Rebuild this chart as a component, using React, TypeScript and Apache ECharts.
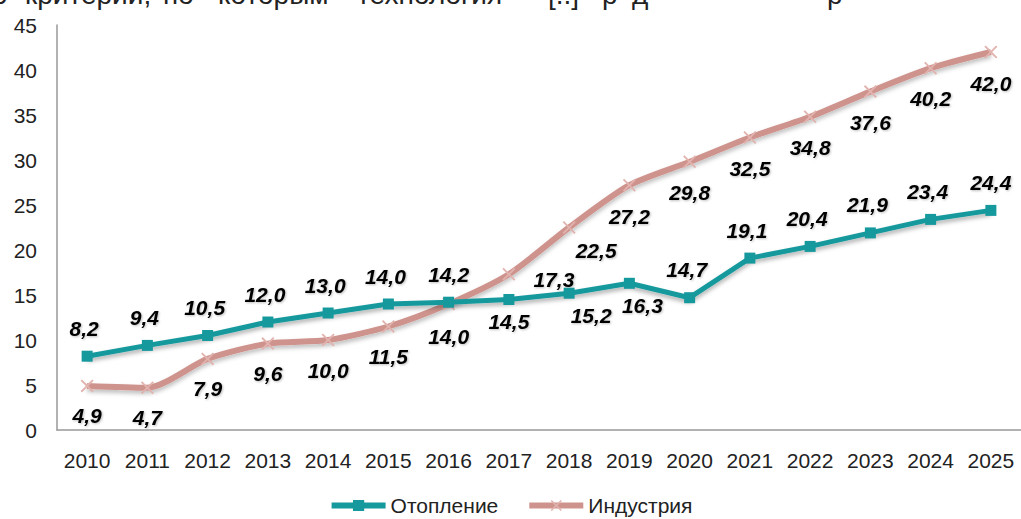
import React, { useEffect, useRef } from "react";
import * as echarts from "echarts";

const years = ["2010","2011","2012","2013","2014","2015","2016","2017","2018","2019","2020","2021","2022","2023","2024","2025"];
const heating = [8.2, 9.4, 10.5, 12.0, 13.0, 14.0, 14.2, 14.5, 15.2, 16.3, 14.7, 19.1, 20.4, 21.9, 23.4, 24.4];
const industry = [4.9, 4.7, 7.9, 9.6, 10.0, 11.5, 14.0, 17.3, 22.5, 27.2, 29.8, 32.5, 34.8, 37.6, 40.2, 42.0];
const seriesNames = ["Отопление", "Индустрия"];
const yTicks = { min: 0, max: 45, interval: 5 };
const topWords = ["о", "критерии,", "по", "которым", "технология", "[..]", "р", "д", "р"];
const topWordX = [-8, 25, 163, 218, 357, 548, 602, 632, 827];

// label offsets (style only)
const heatingOffsets: number[][] = [
  [-3, -28], [-3, -28], [-3, -28], [-3, -28], [-3, -28], [-3, -28], [0, -28],
  [0, 22], [22, 22], [13, 22], [-3, -28], [-3, -28], [-3, -28], [-3, -28], [-3, -28], [0, -28],
];
const industryOffsets: number[][] = [
  [0, 30], [0, 30], [0, 30], [0, 30], [0, 30], [0, 30], [0, 32],
  [45, 5], [27, 23], [0, 31], [0, 31], [0, 31], [0, 31], [0, 31], [0, 30], [0, 31],
];

const TEAL = "#16999d";
const PINK = "#cf938d";
const FONT = "Liberation Sans, Arial, sans-serif";

const labelStyle = {
  show: true,
  position: "inside",
  color: "#000",
  fontFamily: FONT,
  fontSize: 21,
  fontWeight: "bold",
  fontStyle: "italic",
  textShadowColor: "rgba(0,0,0,0.25)",
  textShadowBlur: 2,
  textShadowOffsetX: 1,
  textShadowOffsetY: 1,
  formatter: (p: any) => Number(p.value).toFixed(1).replace(".", ","),
};

export default function App() {
  const ref = useRef<HTMLDivElement>(null);
  useEffect(() => {
    if (!ref.current) return;
    const chart = echarts.init(ref.current, undefined, { renderer: "svg" });
    const xSymbol =
      "path://M1,0 L5,4 L9,0 L10,1 L6,5 L10,9 L9,10 L5,6 L1,10 L0,9 L4,5 L0,1Z";
    chart.setOption({
      animation: false,
      backgroundColor: "#ffffff",
      textStyle: { fontFamily: FONT },
      graphic: topWords.map((w, i) => ({
        type: "text",
        x: topWordX[i],
        y: -6,
        style: {
          text: w,
          font: "28px " + FONT,
          fill: "#222",
          verticalAlign: "middle",
          align: "left",
        },
      })),
      grid: { left: 57, right: 0, top: 25, bottom: 89, containLabel: false },
      legend: {
        bottom: -2,
        left: "center",
        itemWidth: 54,
        itemHeight: 14,
        itemGap: 28,
        lineStyle: { width: 6 },
        textStyle: { fontSize: 21, color: "#222" },
        data: [
          { name: seriesNames[0] },
          { name: seriesNames[1] },
        ],
      },
      xAxis: {
        type: "category",
        data: years,
        boundaryGap: true,
        axisLine: { show: true, lineStyle: { color: "#999", width: 1.5 } },
        axisTick: { show: false },
        axisLabel: { color: "#222", fontSize: 21, margin: 20, interval: 0 },
        splitLine: { show: false },
      },
      yAxis: {
        type: "value",
        min: yTicks.min,
        max: yTicks.max,
        interval: yTicks.interval,
        axisLine: { show: true, lineStyle: { color: "#999", width: 1.5 } },
        axisTick: { show: false },
        axisLabel: { color: "#222", fontSize: 21, margin: 20 },
        splitLine: { show: false },
      },
      series: [
        {
          name: seriesNames[0],
          type: "line",
          data: heating.map((v, i) => ({
            value: v,
            label: { offset: heatingOffsets[i] },
          })),
          symbol: "rect",
          symbolSize: 11,
          itemStyle: { color: TEAL },
          lineStyle: {
            color: TEAL,
            width: 5,
            shadowColor: "rgba(0,0,0,0.3)",
            shadowBlur: 4,
            shadowOffsetY: 3,
          },
          label: labelStyle,
          z: 3,
        },
        {
          name: seriesNames[1],
          type: "line",
          smooth: 0.25,
          data: industry.map((v, i) => ({
            value: v,
            label: { offset: industryOffsets[i] },
          })),
          symbol: xSymbol,
          symbolSize: 13,
          itemStyle: { color: "#e2b3ae" },
          lineStyle: {
            color: PINK,
            width: 6,
            shadowColor: "rgba(0,0,0,0.25)",
            shadowBlur: 4,
            shadowOffsetY: 3,
          },
          label: labelStyle,
          z: 2,
        },
      ],
    });
    return () => chart.dispose();
  }, []);
  return (
    <div
      ref={ref}
      style={{ position: "fixed", left: 0, top: 0, width: 1021, height: 519 }}
    />
  );
}
